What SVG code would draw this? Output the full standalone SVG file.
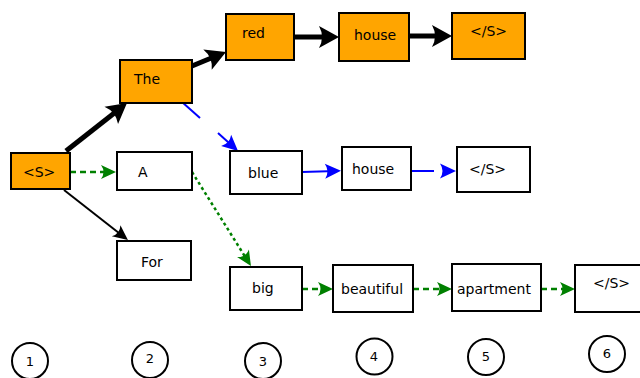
<svg xmlns="http://www.w3.org/2000/svg" width="640" height="378" viewBox="0 0 640 378">
  <style>
    .box { stroke: #000; stroke-width: 2; }
    .best { fill: #FFA500; }
    .alt { fill: #FFFFFF; }
    .lbl { font-family: "DejaVu Sans", Verdana, sans-serif; font-size: 14px; fill: #000; }
    .num { font-family: "DejaVu Sans", Verdana, sans-serif; font-size: 13px; fill: #000; text-anchor: middle; }
    .step { fill: none; stroke: #000; stroke-width: 2; }
    .e-best { fill: none; stroke: #000; stroke-width: 5; marker-end: url(#head-best); }
    .e-black { fill: none; stroke: #000; stroke-width: 2; marker-end: url(#head-black); }
    .e-blue { fill: none; stroke: #0000FF; stroke-width: 2; }
    .e-blue.tip { marker-end: url(#head-blue); }
    .e-green { fill: none; stroke: #008000; stroke-width: 2.5; stroke-dasharray: 6 4; marker-end: url(#head-green); }
    .e-dot { fill: none; stroke: #008000; stroke-width: 2.5; stroke-dasharray: 3 3; marker-end: url(#head-green); }
  </style>
  <defs>
    <!-- concave arrowheads; tip sits a little past the end of the line -->
    <marker id="head-best" markerUnits="userSpaceOnUse" orient="auto" refX="0" refY="0" markerWidth="40" markerHeight="40" viewBox="-20 -20 40 40" overflow="visible">
      <path d="M8,0 L-12,-11 Q-6,0 -12,11 Z" fill="#000"/>
    </marker>
    <marker id="head-black" markerUnits="userSpaceOnUse" orient="auto" refX="0" refY="0" markerWidth="40" markerHeight="40" viewBox="-20 -20 40 40" overflow="visible">
      <path d="M5,0 L-10,-7 Q-5,0 -10,7 Z" fill="#000"/>
    </marker>
    <marker id="head-blue" markerUnits="userSpaceOnUse" orient="auto" refX="0" refY="0" markerWidth="40" markerHeight="40" viewBox="-20 -20 40 40" overflow="visible">
      <path d="M5,0 L-11,-7.5 Q-6,0 -11,7.5 Z" fill="#0000FF"/>
    </marker>
    <marker id="head-green" markerUnits="userSpaceOnUse" orient="auto" refX="0" refY="0" markerWidth="40" markerHeight="40" viewBox="-20 -20 40 40" overflow="visible">
      <path d="M5,0 L-10,-7 Q-5,0 -10,7 Z" fill="#008000"/>
    </marker>
  </defs>

  <g id="connectors">
    <!-- best path -->
    <line class="e-best" x1="66" y1="151" x2="120.7" y2="108"/>
    <line class="e-best" x1="192" y1="66" x2="218.6" y2="55"/>
    <line class="e-best" x1="294" y1="37" x2="331" y2="37"/>
    <line class="e-best" x1="409" y1="36" x2="444" y2="36"/>
    <!-- second path -->
    <line class="e-blue" x1="182" y1="102" x2="200" y2="118"/>
    <line class="e-blue tip" x1="218" y1="133" x2="234.3" y2="147.7"/>
    <line class="e-blue tip" x1="302" y1="172" x2="336" y2="171"/>
    <line class="e-blue" x1="411" y1="171" x2="434" y2="171"/>
    <line class="e-blue tip" x1="446" y1="171" x2="451" y2="171"/>
    <!-- third path -->
    <line class="e-green" x1="70" y1="172" x2="111" y2="172"/>
    <line class="e-dot" x1="192" y1="172" x2="248.3" y2="261.8"/>
    <line class="e-green" x1="302" y1="289" x2="328" y2="289"/>
    <line class="e-green" x1="413" y1="289" x2="447" y2="289"/>
    <line class="e-green" x1="541" y1="289" x2="570" y2="289"/>
    <!-- other branch -->
    <line class="e-black" x1="64" y1="190" x2="124" y2="237"/>
  </g>

  <g id="n-start"><rect class="box best" x="11" y="153" width="59" height="36"/><text class="lbl" x="23" y="177">&lt;S&gt;</text></g>
  <g id="n-the"><rect class="box best" x="120" y="60" width="72" height="43"/><text class="lbl" x="134" y="84">The</text></g>
  <g id="n-red"><rect class="box best" x="226" y="14" width="68" height="46"/><text class="lbl" x="242" y="38">red</text></g>
  <g id="n-house1"><rect class="box best" x="339" y="13" width="70" height="48"/><text class="lbl" x="354" y="40">house</text></g>
  <g id="n-end1"><rect class="box best" x="452" y="13" width="73" height="46"/><text class="lbl" x="470" y="36">&lt;/S&gt;</text></g>

  <g id="n-a"><rect class="box alt" x="117" y="152" width="75" height="38"/><text class="lbl" x="138" y="177">A</text></g>
  <g id="n-blue"><rect class="box alt" x="230" y="151" width="72" height="43"/><text class="lbl" x="248" y="178">blue</text></g>
  <g id="n-house2"><rect class="box alt" x="342" y="147" width="69" height="43"/><text class="lbl" x="352" y="174">house</text></g>
  <g id="n-end2"><rect class="box alt" x="457" y="147" width="73" height="45"/><text class="lbl" x="469" y="174">&lt;/S&gt;</text></g>

  <g id="n-for"><rect class="box alt" x="117" y="241" width="74" height="39"/><text class="lbl" x="141" y="267">For</text></g>
  <g id="n-big"><rect class="box alt" x="230" y="267" width="72" height="43"/><text class="lbl" x="252" y="293">big</text></g>
  <g id="n-beautiful"><rect class="box alt" x="333" y="265" width="80" height="47"/><text class="lbl" x="341" y="294">beautiful</text></g>
  <g id="n-apartment"><rect class="box alt" x="452" y="264" width="89" height="47"/><text class="lbl" x="457" y="294">apartment</text></g>
  <g id="n-end3"><rect class="box alt" x="575" y="265" width="66" height="47"/><text class="lbl" x="593" y="288">&lt;/S&gt;</text></g>

  <g id="steps">
    <g id="step-1"><circle class="step" cx="30" cy="361" r="18"/><text class="num" x="30" y="366">1</text></g>
    <g id="step-2"><circle class="step" cx="150" cy="360" r="18"/><text class="num" x="150" y="363">2</text></g>
    <g id="step-3"><circle class="step" cx="263" cy="361" r="18"/><text class="num" x="263" y="366">3</text></g>
    <g id="step-4"><circle class="step" cx="374.5" cy="356.5" r="18"/><text class="num" x="374" y="361">4</text></g>
    <g id="step-5"><circle class="step" cx="486" cy="357" r="18"/><text class="num" x="486" y="361">5</text></g>
    <g id="step-6"><circle class="step" cx="607" cy="354" r="18"/><text class="num" x="607" y="358">6</text></g>
  </g>
</svg>
